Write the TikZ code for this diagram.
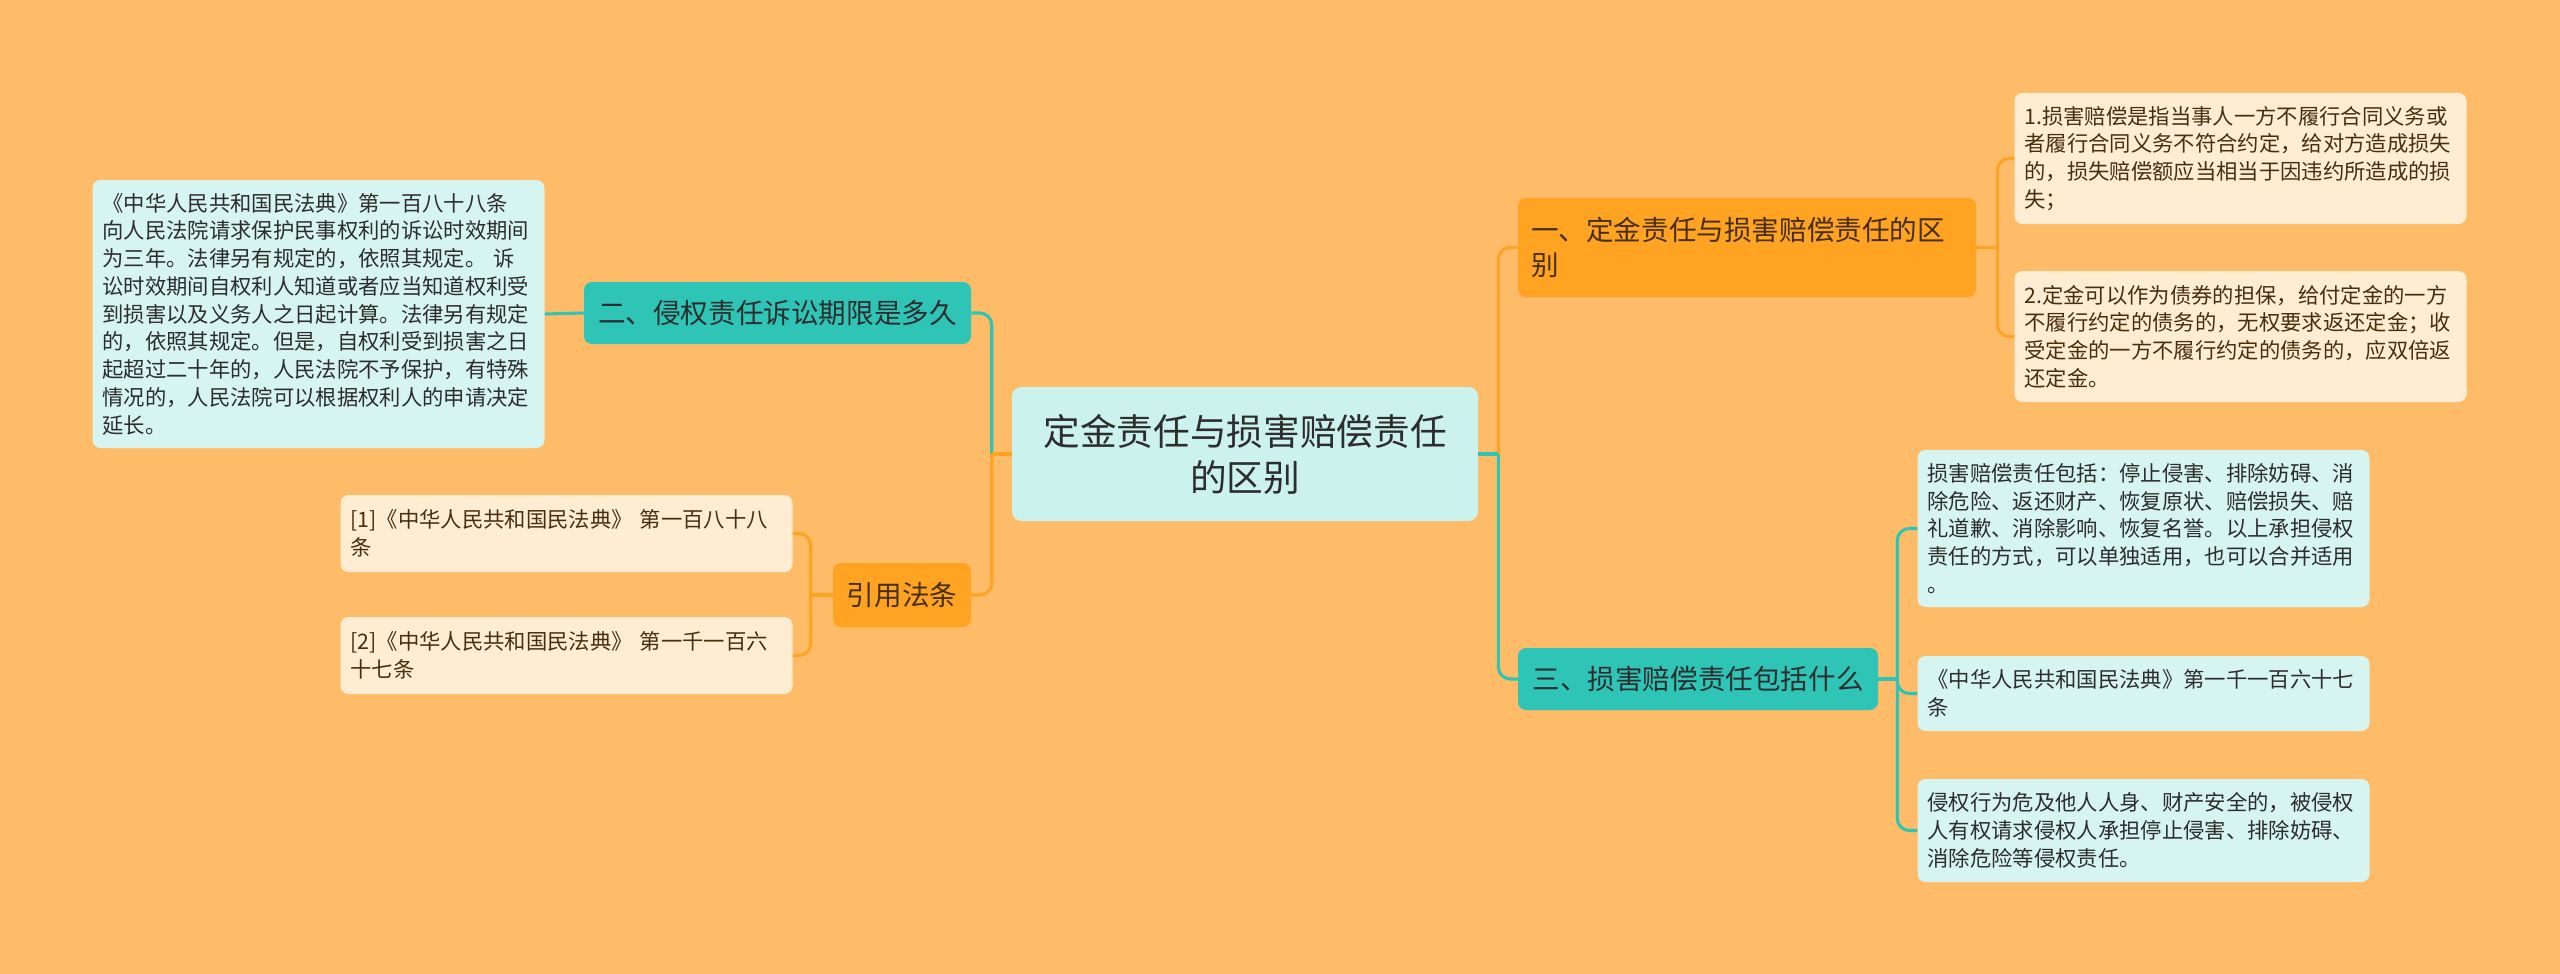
\documentclass[tikz,border=0pt]{standalone}
\usepackage{fontspec}
\newfontfamily\cjk{Noto Sans CJK SC}
\usetikzlibrary{positioning,calc}

\definecolor{bgpeach}{RGB}{254,188,104}
\definecolor{tealfill}{RGB}{46,196,182}
\definecolor{orangefill}{RGB}{254,163,34}
\definecolor{rootfill}{RGB}{204,242,238}
\definecolor{cyanfill}{RGB}{214,244,240}
\definecolor{creamfill}{RGB}{254,236,211}
\definecolor{darkink}{RGB}{45,45,45}
\definecolor{brownink}{RGB}{72,46,12}

\begin{document}
\begin{tikzpicture}[
    x=0.75pt, y=-0.75pt,
    root/.style={rectangle, fill=rootfill, rounded corners=7pt, minimum width=349.5pt, minimum height=100.5pt, align=center, text=darkink, font={\cjk\fontsize{27.5pt}{34.5pt}\selectfont}},
    tealtopic/.style={rectangle, fill=tealfill, rounded corners=6pt, minimum height=46.5pt, align=center, text=darkink, font={\cjk\fontsize{20.7pt}{26.2pt}\selectfont}},
    orangetopic/.style={rectangle, fill=orangefill, rounded corners=6pt, minimum height=46.5pt, align=center, text=brownink, font={\cjk\fontsize{20.7pt}{26.2pt}\selectfont}},
    cyannote/.style={rectangle, fill=cyanfill, rounded corners=6pt, text width=324pt, inner xsep=7.5pt, align=left, text=darkink, font={\cjk\fontsize{16pt}{20.8pt}\selectfont}},
    creamnote/.style={rectangle, fill=creamfill, rounded corners=6pt, text width=324pt, inner xsep=7.5pt, align=left, text=brownink, font={\cjk\fontsize{16pt}{20.8pt}\selectfont}},
    tealline/.style={draw=tealfill, line width=2.3pt, rounded corners=9pt},
    orangeline/.style={draw=orangefill, line width=2.3pt, rounded corners=9pt}
]
\fill[bgpeach] (0,0) rectangle (2560,974);
\useasboundingbox (0,0) rectangle (2560,974);

% Central topic
\node[root] (center) at (1245, 454) {定金责任与损害赔偿责任\\的区别};

% Left: limitation period
\node[tealtopic, minimum width=290.25pt] (limit) at (777.5, 313) {二、侵权责任诉讼期限是多久};
\node[cyannote, minimum height=201pt] (limitlaw) at (318.5, 314) {《中华人民共和国民法典》第一百八十八条\\向人民法院请求保护民事权利的诉讼时效期间\\为三年。法律另有规定的，依照其规定。~诉\\讼时效期间自权利人知道或者应当知道权利受\\到损害以及义务人之日起计算。法律另有规定\\的，依照其规定。但是，自权利受到损害之日\\起超过二十年的，人民法院不予保护，有特殊\\情况的，人民法院可以根据权利人的申请决定\\延长。};

% Left: cited articles
\node[orangetopic, minimum width=103.5pt, minimum height=48pt] (cite) at (902, 595) {引用法条};
\node[creamnote, minimum height=57.75pt] (cite1) at (566.5, 533.5) {[1]《中华人民共和国民法典》~第一百八十八\\条};
\node[creamnote, minimum height=57.75pt] (cite2) at (566.5, 655.5) {[2]《中华人民共和国民法典》~第一千一百六\\十七条};

% Right: deposit vs damages
\node[orangetopic, text width=324pt, inner xsep=9.75pt, align=left, minimum height=74.25pt] (diff) at (1747, 247.5) {一、定金责任与损害赔偿责任的区\\别};
\node[creamnote, minimum height=98.25pt] (diff1) at (2240.5, 158.5) {1.损害赔偿是指当事人一方不履行合同义务或\\者履行合同义务不符合约定，给对方造成损失\\的，损失赔偿额应当相当于因违约所造成的损\\失；};
\node[creamnote, minimum height=98.25pt] (diff2) at (2240.5, 336.5) {2.定金可以作为债券的担保，给付定金的一方\\不履行约定的债务的，无权要求返还定金；收\\受定金的一方不履行约定的债务的，应双倍返\\还定金。};

% Right: what damages cover
\node[tealtopic, minimum width=270pt] (scope) at (1698, 679) {三、损害赔偿责任包括什么};
\node[cyannote, minimum height=117.75pt] (scope1) at (2143.5, 528.5) {损害赔偿责任包括：停止侵害、排除妨碍、消\\除危险、返还财产、恢复原状、赔偿损失、赔\\礼道歉、消除影响、恢复名誉。以上承担侵权\\责任的方式，可以单独适用，也可以合并适用\\。};
\node[cyannote, minimum height=56.25pt] (scope2) at (2143.5, 693.5) {《中华人民共和国民法典》第一千一百六十七\\条};
\node[cyannote, minimum height=77.25pt] (scope3) at (2143.5, 830.5) {侵权行为危及他人人身、财产安全的，被侵权\\人有权请求侵权人承担停止侵害、排除妨碍、\\消除危险等侵权责任。};

% Forks
\coordinate (lfork) at ($(center.west)+(-20,0)$);
\coordinate (rfork) at ($(center.east)+(20,0)$);
\coordinate (citefork) at ($(cite.west)+(-22,0)$);
\coordinate (difffork) at ($(diff.east)+(21,0)$);
\coordinate (scopefork) at ($(scope.east)+(19,0)$);

% Connections: central to topics
\draw[tealline] (lfork) |- (limit.east);
\draw[orangeline] (lfork) |- (cite.east);
\draw[orangeline] (center.west) -- (lfork);
\draw[orangeline] (rfork) |- (diff.west);
\draw[tealline] (rfork) |- (scope.west);
\draw[tealline] (center.east) -- (rfork);

% Connections: topics to notes
\draw[tealline] (limit.west) -- (limitlaw.east);
\draw[orangeline] (cite.west) -- (citefork);
\draw[orangeline] (citefork) |- (cite1.east);
\draw[orangeline] (citefork) |- (cite2.east);
\draw[orangeline] (diff.east) -- (difffork);
\draw[orangeline] (difffork) |- (diff1.west);
\draw[orangeline] (difffork) |- (diff2.west);
\draw[tealline] (scope.east) -- (scopefork);
\draw[tealline] (scopefork) |- (scope1.west);
\draw[tealline] (scopefork) |- (scope2.west);
\draw[tealline] (scopefork) |- (scope3.west);

\end{tikzpicture}
\end{document}
